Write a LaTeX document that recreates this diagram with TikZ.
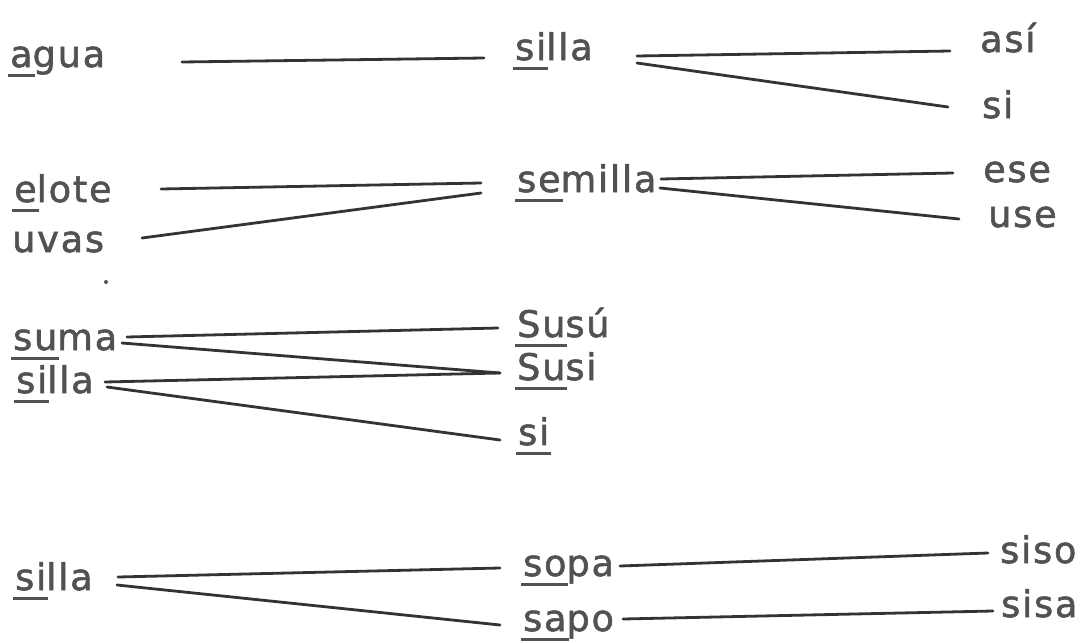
\documentclass[tikz,border=0pt]{standalone}
\usepackage{fontspec}
\newfontfamily\wordfont[LetterSpace=5,FakeBold=1.6]{DejaVu Sans}
\definecolor{ink}{gray}{0.32}
\definecolor{pen}{gray}{0.2}
\newsavebox\sylbox
\newcommand{\usyl}[1]{\sbox\sylbox{#1}\rlap{\kern-2pt\rule[-9.5pt]{\dimexpr\wd\sylbox+4pt\relax}{3pt}}\usebox\sylbox}

\begin{document}
\begin{tikzpicture}
  [x=1pt, y=-1pt,
    word/.style={anchor=base west, inner sep=0pt, text=ink,
      font=\wordfont\fontsize{36.6}{40}\selectfont},
    link/.style={draw=pen, line width=2.8pt, line cap=round},
  ]
  \useasboundingbox (0,0) rectangle (1088,643);
  \fill[white] (0,0) rectangle (1088,643);

  % agua - silla - asi / si
  \node[word] (agua) at (10,67) {\usyl{a}gua};
  \node[word] (sillaA) at (515,60) {\usyl{si}lla};
  \node[word] (asi) at (980,52) {así};
  \node[word] (siA) at (982,118) {si};
  \draw[link] ([shift={(172,-5)}]agua.base west) -- ([shift={(-31,-2)}]sillaA.base west);
  \draw[link] ([shift={(122,-4)}]sillaA.base west) -- ([shift={(-30,-1)}]asi.base west);
  \draw[link] ([shift={(122,3)}]sillaA.base west) -- ([shift={(-34,-11)}]siA.base west);

  % elote / uvas - semilla - ese / use
  \node[word] (elote) at (14,202) {\usyl{e}lote};
  \node[word] (uvas) at (12,252) {uvas};
  \node[word] (semilla) at (517,192) {\usyl{se}milla};
  \node[word] (ese) at (983,182) {ese};
  \node[word] (use) at (988,227) {use};
  \draw[link] ([shift={(147,-13)}]elote.base west) -- ([shift={(-36,-9)}]semilla.base west);
  \draw[link] ([shift={(130,-14)}]uvas.base west) -- ([shift={(-36,1)}]semilla.base west);
  \draw[link] ([shift={(144,-13)}]semilla.base west) -- ([shift={(-30,-9)}]ese.base west);
  \draw[link] ([shift={(143,-4)}]semilla.base west) -- ([shift={(-29,-8)}]use.base west);
  \fill[ink] (106,282) circle (2);

  % suma / silla - Susu / Susi / si
  \node[word] (suma) at (13,350) {\usyl{su}ma};
  \node[word] (sillaC) at (16,393) {\usyl{si}lla};
  \node[word] (susu) at (517,337) {\usyl{Su}sú};
  \node[word] (susi) at (517,380) {\usyl{Su}si};
  \node[word] (siC) at (518,445) {\usyl{si}};
  \draw[link] ([shift={(114,-13)}]suma.base west) -- ([shift={(-19,-9)}]susu.base west);
  \draw[link] ([shift={(109,-7)}]suma.base west) -- ([shift={(-17,-7)}]susi.base west);
  \draw[link] ([shift={(89,-11)}]sillaC.base west) -- ([shift={(-17,-7)}]susi.base west);
  \draw[link] ([shift={(91,-6)}]sillaC.base west) -- ([shift={(-18,-5)}]siC.base west);

  % silla - sopa / sapo - siso / sisa
  \node[word] (sillaD) at (15,590) {\usyl{si}lla};
  \node[word] (sopa) at (523,576) {\usyl{so}pa};
  \node[word] (sapo) at (523,631) {\usyl{sa}po};
  \node[word] (siso) at (1000,563) {siso};
  \node[word] (sisa) at (1001,617) {sisa};
  \draw[link] ([shift={(103,-13)}]sillaD.base west) -- ([shift={(-23,-8)}]sopa.base west);
  \draw[link] ([shift={(102,-5)}]sillaD.base west) -- ([shift={(-23,-6)}]sapo.base west);
  \draw[link] ([shift={(97,-10)}]sopa.base west) -- ([shift={(-12,-10)}]siso.base west);
  \draw[link] ([shift={(100,-12)}]sapo.base west) -- ([shift={(-8,-6)}]sisa.base west);
\end{tikzpicture}
\end{document}
